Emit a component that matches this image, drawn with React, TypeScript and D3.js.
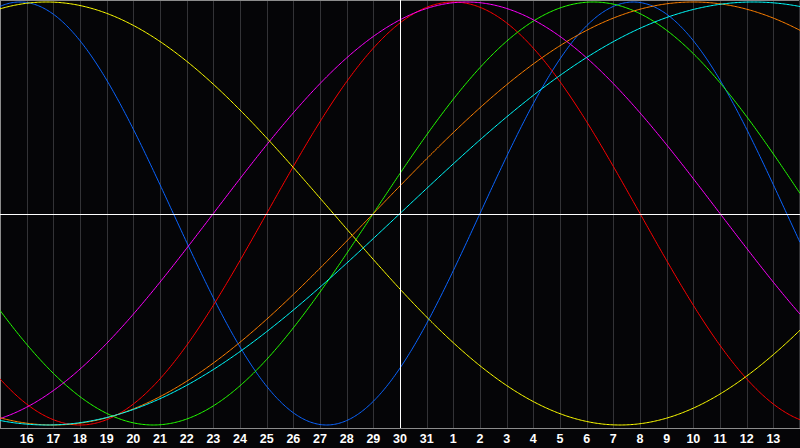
import { useEffect, useRef } from "react";
import * as d3 from "d3";

// biorhythm cycles
const cycleNames = ["physical", "emotional", "intellectual", "intuitive", "aesthetic", "awareness", "spiritual"];
const cyclePeriods = [23, 28, 33, 38, 43, 48, 53];
const cycleColors = ["#0a64ff", "#ff0000", "#22ff00", "#ff00ff", "#ffff00", "#ff8000", "#00ffff"];
const daysAliveAtStart = 14242;
const daySpan = 30;
const todayIndex = 15;
const dayLabels = [
  "16", "17", "18", "19", "20", "21", "22", "23", "24", "25", "26", "27", "28", "29", "30",
  "31", "1", "2", "3", "4", "5", "6", "7", "8", "9", "10", "11", "12", "13",
];

const width = 800;
const height = 448;
const plotBottom = 428;

export default function App() {
  const svgRef = useRef<SVGSVGElement>(null);

  useEffect(() => {
    document.body.style.margin = "0";
    if (!svgRef.current) return;
    const svg = d3.select(svgRef.current);
    svg.selectAll("*").remove();

    const x = d3.scaleLinear().domain([0, daySpan]).range([0, width]);
    const y = d3.scaleLinear().domain([-1, 1]).range([425, 2]);

    svg.append("rect").attr("width", width).attr("height", height).attr("fill", "#050507");

    // day gridlines
    const grid = svg.append("g").attr("shape-rendering", "crispEdges");
    d3.range(1, daySpan).forEach((d) => {
      if (d === todayIndex) return;
      grid
        .append("line")
        .attr("x1", Math.round(x(d)) + 0.5)
        .attr("x2", Math.round(x(d)) + 0.5)
        .attr("y1", 0)
        .attr("y2", plotBottom)
        .attr("stroke", "#333336");
    });

    // frame
    grid
      .append("path")
      .attr("d", `M0.5,${plotBottom + 0.5}V0.5H${width - 0.5}`)
      .attr("fill", "none")
      .attr("stroke", "#8c8c8c");
    grid
      .append("line")
      .attr("x1", 0)
      .attr("x2", width)
      .attr("y1", plotBottom + 0.5)
      .attr("y2", plotBottom + 0.5)
      .attr("stroke", "#8c8c8c");
    grid
      .append("line")
      .attr("x1", width - 0.5)
      .attr("x2", width - 0.5)
      .attr("y1", 0)
      .attr("y2", plotBottom)
      .attr("stroke", "#333336");

    // cycle curves
    const samples = d3.range(0, daySpan + 0.05, 0.05);
    cyclePeriods.forEach((period, i) => {
      const line = d3
        .line<number>()
        .x((d) => x(d))
        .y((d) => y(Math.sin((2 * Math.PI * (daysAliveAtStart + d)) / period)));
      svg
        .append("path")
        .attr("class", cycleNames[i])
        .attr("d", line(samples))
        .attr("fill", "none")
        .attr("stroke", cycleColors[i])
        .attr("stroke-width", 1);
    });

    // today + zero lines
    svg
      .append("line")
      .attr("x1", 0)
      .attr("x2", width)
      .attr("y1", 214)
      .attr("y2", 214)
      .attr("stroke", "#ffffff")
      .attr("shape-rendering", "crispEdges");
    svg
      .append("line")
      .attr("x1", Math.round(x(todayIndex)) + 0.5)
      .attr("x2", Math.round(x(todayIndex)) + 0.5)
      .attr("y1", 0)
      .attr("y2", plotBottom)
      .attr("stroke", "#ffffff")
      .attr("shape-rendering", "crispEdges");

    // day labels
    svg
      .append("g")
      .selectAll("text")
      .data(dayLabels)
      .join("text")
      .attr("x", (_, i) => x(i + 1))
      .attr("y", 443)
      .attr("text-anchor", "middle")
      .attr("fill", "#ffffff")
      .attr("font-family", "Liberation Sans, Arial, sans-serif")
      .attr("font-weight", "bold")
      .attr("font-size", 12.5)
      .text((d) => d);
  }, []);

  return (
    <div style={{ position: "fixed", left: 0, top: 0 }}>
      <svg ref={svgRef} width={width} height={height} style={{ display: "block" }} />
    </div>
  );
}
